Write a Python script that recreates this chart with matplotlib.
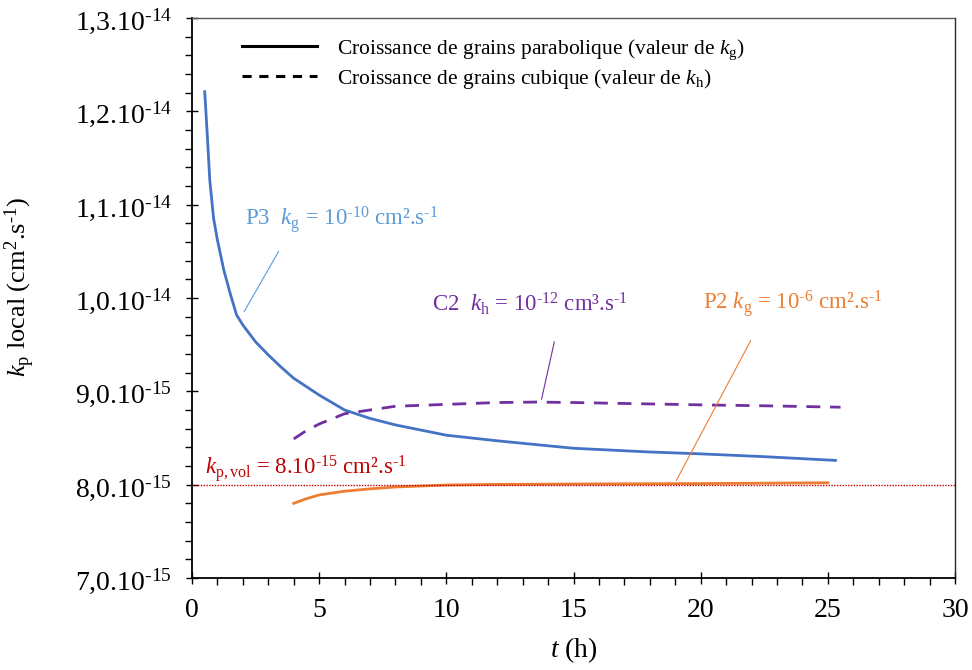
import matplotlib
matplotlib.use("Agg")
import matplotlib.pyplot as plt
from matplotlib.lines import Line2D
from matplotlib.ticker import FixedLocator, MultipleLocator
import numpy as np

plt.rcParams['font.family'] = ['Liberation Serif', 'DejaVu Serif']
plt.rcParams['mathtext.fontset'] = 'custom'
plt.rcParams['mathtext.rm'] = 'Liberation Serif'
plt.rcParams['mathtext.it'] = 'Liberation Serif:italic'
plt.rcParams['mathtext.bf'] = 'Liberation Serif:bold'

SC = 1e-15
# P3 parabolic (kg = 1e-10)
t_p3 = [0.5, 0.6, 0.7, 0.85, 1.0, 1.25, 1.5, 1.75, 2.0, 2.5, 3.0, 3.5, 4.0, 5.0, 6.0, 7.0, 8.0, 10.0, 12.0, 15.0, 18.0, 20.0, 22.5, 25.3]
k_p3 = [12.21, 11.75, 11.26, 10.85, 10.62, 10.30, 10.05, 9.82, 9.71, 9.53, 9.39, 9.26, 9.14, 8.96, 8.80, 8.71, 8.64, 8.53, 8.47, 8.39, 8.35, 8.33, 8.30, 8.26]
# P2 parabolic (kg = 1e-6)
t_p2 = [4.0, 4.5, 5.0, 6.0, 7.0, 8.0, 10.0, 12.0, 15.0, 20.0, 25.0]
k_p2 = [7.80, 7.85, 7.89, 7.93, 7.955, 7.975, 7.996, 8.003, 8.007, 8.012, 8.02]
# C2 cubic (kh = 1e-12)
t_c2 = [4.0, 4.5, 5.0, 6.0, 7.0, 8.0, 10.0, 12.0, 13.5, 15.0, 17.0, 20.0, 22.5, 25.5]
k_c2 = [8.49, 8.58, 8.65, 8.76, 8.80, 8.84, 8.86, 8.88, 8.885, 8.88, 8.87, 8.855, 8.845, 8.83]
kp_vol = 8.0

ytick_vals = [7, 8, 9, 10, 11, 12, 13]
ytick_labels = [r"7,0.10$^{\text{-15}}$", r"8,0.10$^{\text{-15}}$", r"9,0.10$^{\text{-15}}$",
                r"1,0.10$^{\text{-14}}$", r"1,1.10$^{\text{-14}}$", r"1,2.10$^{\text{-14}}$",
                r"1,3.10$^{\text{-14}}$"]
xtick_vals = [0, 5, 10, 15, 20, 25, 30]

c_p3 = '#4472C4'
c_p2 = '#ED7D31'
c_c2 = '#7030A0'
c_red = '#C00000'
c_p3_txt = '#5B9BD5'

fig = plt.figure(figsize=(9.72, 6.70), dpi=100)
ax = fig.add_axes([192/972, 1-578/670, (955-192)/972, (578-18)/670])

ax.plot(t_p3, np.array(k_p3)*SC, color=c_p3, lw=2.0)
ax.plot(t_p2, np.array(k_p2)*SC, color=c_p2, lw=2.0)
ax.plot(t_c2, np.array(k_c2)*SC, color=c_c2, lw=2.0, dashes=(5, 3.5))
ax.axhline(kp_vol*SC, color=c_red, lw=1.0, ls=(0, (1, 1)))

ax.set_xlim(0, 30)
ax.set_ylim(7e-15, 13e-15)
ax.xaxis.set_major_locator(FixedLocator(xtick_vals))
ax.xaxis.set_minor_locator(MultipleLocator(1))
ax.yaxis.set_major_locator(FixedLocator([v*SC for v in ytick_vals]))
ax.yaxis.set_minor_locator(MultipleLocator(0.2e-15))
ax.set_yticklabels(ytick_labels)
ax.set_xticklabels([str(v) for v in xtick_vals])
ax.tick_params(which='major', direction='inout', length=9, width=1, labelsize=20, colors='black')
ax.tick_params(which='minor', direction='out', length=5, width=1)
ax.tick_params(axis='x', which='major', pad=10)
ax.tick_params(axis='y', which='major', pad=10)
for s in ['left', 'bottom']:
    ax.spines[s].set_color('black'); ax.spines[s].set_linewidth(1.3)
ax.spines['top'].set_color('#595959'); ax.spines['top'].set_linewidth(1.0)
ax.spines['right'].set_color('#262626'); ax.spines['right'].set_linewidth(1.0)

ax.set_xlabel(r"$t$ (h)", fontsize=20)
ax.set_ylabel(r"$k_\mathrm{p}$ local (cm$^2$.s$^{\text{-1}}$)", fontsize=19)
ax.xaxis.set_label_coords(0.5, -0.103)
ax.yaxis.set_label_coords(-0.203, 0.52)

# annotations
fs = 16.5
ax.annotate("", xy=(2.0, 9.83*SC), xytext=(3.46, 10.525*SC),
            arrowprops=dict(arrowstyle='-', color=c_p3_txt, lw=0.8))
ax.text(2.08, 10.84*SC, r"P3  $k_\mathrm{g}$ = 10$^{\text{-10}}$ cm².s$^{\text{-1}}$", color=c_p3_txt,
        fontsize=fs, va='center', ha='left')
ax.annotate("", xy=(13.72, 8.886*SC), xytext=(14.27, 9.56*SC),
            arrowprops=dict(arrowstyle='-', color=c_c2, lw=0.8))
ax.text(9.44, 9.94*SC, r"C2  $k_\mathrm{h}$ = 10$^{\text{-12}}$ cm³.s$^{\text{-1}}$", color=c_c2,
        fontsize=fs, va='center', ha='left')
ax.annotate("", xy=(18.99, 8.018*SC), xytext=(22.02, 9.57*SC),
            arrowprops=dict(arrowstyle='-', color=c_p2, lw=0.8))
ax.text(20.1, 9.94*SC, r"P2 $k_\mathrm{g}$ = 10$^{\text{-6}}$ cm².s$^{\text{-1}}$", color=c_p2,
        fontsize=fs, va='center', ha='left')
ax.text(0.5, 8.17*SC, r"$k_\mathrm{p,vol}$ = 8.10$^{\text{-15}}$ cm².s$^{\text{-1}}$", color=c_red,
        fontsize=fs, va='center', ha='left')

handles = [Line2D([], [], color='black', lw=2.2),
           Line2D([], [], color='black', lw=2.2, dashes=(3, 2.5))]
labels = [r"Croissance de grains parabolique (valeur de $k_\mathrm{g}$)",
          r"Croissance de grains cubique (valeur de $k_\mathrm{h}$)"]
fig.legend(handles, labels, loc='upper left', bbox_to_anchor=(242/972, 1-37/670),
           frameon=False, fontsize=15.5, handlelength=3.5, handletextpad=0.9,
           labelspacing=0.25, borderpad=0, borderaxespad=0)

fig.savefig("out.png", dpi=100)
